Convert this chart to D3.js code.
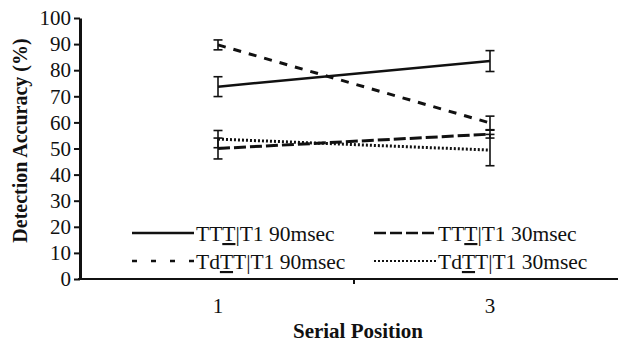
<!doctype html>
<html>
  <head>
    <meta charset="utf-8">
    <script src="https://cdnjs.cloudflare.com/ajax/libs/d3/7.8.5/d3.min.js"></script>
  </head>
  <body style="margin:0">
    <div id="c"></div>
    <script>
    // data
    const positions = ["1", "3"];
    const seriesNames = ["TTT|T1 90msec", "TTT|T1 30msec", "TdTT|T1 90msec", "TdTT|T1 30msec"];
    const means = [
      [73.7, 83.5],   // TTT 90
      [50.0, 55.5],   // TTT 30
      [89.7, 59.8],   // TdTT 90
      [53.6, 49.4]    // TdTT 30
    ];
    const errors = [
      [3.8, 4.0],
      [4.0, 1.5],
      [1.9, 2.6],
      [3.3, 6.0]
    ];
    const yTicks = [0, 10, 20, 30, 40, 50, 60, 70, 80, 90, 100];

    // line style per series (plot / legend)
    const dashes = ["none", "12,4", "8,8", "2,2"];
    const legendDashes = ["none", "12,4", "5,14", "2,2"];
    // which letter of the label is underlined
    const underlineAt = [2, 2, 2, 2];

    const FONT = "Liberation Serif";
    const width = 618, height = 344;
    const margin = {left: 80, top: 18, bottom: 65};
    const svg = d3.select("#c").append("svg")
      .attr("width", width)
      .attr("height", height);

    const x = d3.scaleBand().domain(positions).range([82, 626]);
    const y = d3.scaleLinear().domain([0, 100]).range([height - margin.bottom, margin.top]);

    // y axis
    const yAxis = svg.append("g")
      .attr("transform", `translate(${margin.left},0)`)
      .call(d3.axisLeft(y).tickValues(yTicks).tickSize(6).tickSizeOuter(0).tickPadding(3));
    yAxis.attr("font-family", FONT).attr("font-size", 21);
    yAxis.select(".domain").attr("stroke", "#111").attr("stroke-width", 3);
    yAxis.selectAll(".tick line").attr("stroke", "#111").attr("stroke-width", 2);
    yAxis.selectAll(".tick text").attr("fill", "#111").attr("font-family", FONT);

    // x axis
    const xAxis = svg.append("g")
      .attr("transform", `translate(0,${y(0)})`)
      .call(d3.axisBottom(x).tickSize(0).tickPadding(19));
    xAxis.attr("font-family", FONT).attr("font-size", 21);
    xAxis.select(".domain").attr("d", `M${margin.left - 2},0H${width}`)
      .attr("stroke", "#111").attr("stroke-width", 2);
    xAxis.selectAll(".tick text").attr("fill", "#111").attr("font-family", FONT);
    xAxis.append("line")
      .attr("x1", x(positions[1])).attr("x2", x(positions[1]))
      .attr("y1", 0).attr("y2", 5)
      .attr("stroke", "#111").attr("stroke-width", 2);

    // axis titles
    svg.append("text")
      .attr("x", 358)
      .attr("y", 338)
      .attr("text-anchor", "middle")
      .attr("font-family", FONT)
      .attr("font-weight", 700)
      .attr("font-size", 21)
      .attr("fill", "#111")
      .text("Serial Position");

    svg.append("text")
      .attr("transform", `translate(27,${(y(0) + y(100)) / 2 - 8}) rotate(-90)`)
      .attr("text-anchor", "middle")
      .attr("font-family", FONT)
      .attr("font-weight", 700)
      .attr("font-size", 20)
      .attr("fill", "#111")
      .text("Detection Accuracy (%)");

    const cx = p => x(p) + x.bandwidth() / 2;

    // lines
    const line = d3.line().x((d, i) => cx(positions[i])).y(d => y(d));
    svg.selectAll(".series")
      .data(means)
      .join("path")
      .attr("class", "series")
      .attr("d", d => line(d))
      .attr("fill", "none")
      .attr("stroke", "#111")
      .attr("stroke-width", (d, i) => i == 0 ? 2.5 : 3)
      .attr("stroke-dasharray", (d, i) => dashes[i]);

    // error bars
    const capW = 4.5;
    means.forEach((s, si) => {
      s.forEach((m, pi) => {
        const px = cx(positions[pi]);
        const lo = y(m - errors[si][pi]), hi = y(m + errors[si][pi]);
        const g = svg.append("g").attr("stroke", "#111").attr("stroke-width", 1.6);
        g.append("line").attr("x1", px).attr("x2", px).attr("y1", lo).attr("y2", hi);
        g.append("line").attr("x1", px - capW).attr("x2", px + capW).attr("y1", lo).attr("y2", lo);
        g.append("line").attr("x1", px - capW).attr("x2", px + capW).attr("y1", hi).attr("y2", hi);
      });
    });

    // legend (2 x 2)
    const legX = [132, 374], legY = [233, 261], sampleW = 62;
    seriesNames.forEach((name, i) => {
      const col = i % 2, row = Math.floor(i / 2);
      const lx = legX[col], ly = legY[row];
      svg.append("line")
        .attr("x1", lx).attr("x2", lx + sampleW)
        .attr("y1", ly).attr("y2", ly)
        .attr("stroke", "#111")
        .attr("stroke-width", i == 3 ? 2 : 2.5)
        .attr("stroke-dasharray", legendDashes[i]);
      const t = svg.append("text")
        .attr("x", lx + sampleW + 2)
        .attr("y", ly + 8)
        .attr("font-family", FONT)
        .attr("font-size", 21.5)
        .attr("fill", "#111");
      const u = underlineAt[i];
      t.append("tspan").text(name.slice(0, u));
      t.append("tspan").attr("text-decoration", "underline").text(name.slice(u, u + 1));
      t.append("tspan").text(name.slice(u + 1));
    });
    </script>
  </body>
</html>
